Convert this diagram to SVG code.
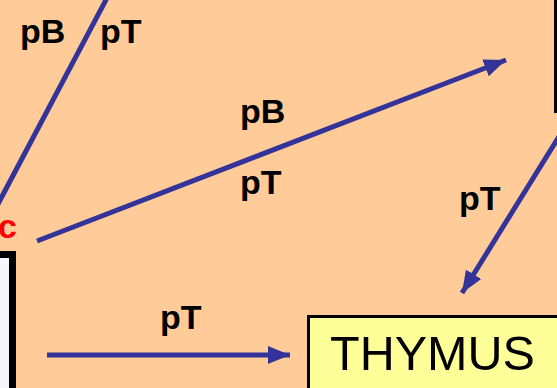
<svg xmlns="http://www.w3.org/2000/svg" width="557" height="388" viewBox="0 0 557 388">
  <style>
    .lbl { font-family: "Liberation Sans", Arial, sans-serif; font-weight: bold; font-size: 34px; fill: #000; }
    .conn { stroke: #333399; stroke-width: 5; fill: none; }
  </style>
  <defs>
    <marker id="ah" markerUnits="userSpaceOnUse" markerWidth="24" markerHeight="20" viewBox="0 0 24 20" refX="22" refY="10" orient="auto">
      <path d="M0,1 L22,10 L0,19 z" fill="#333399"/>
    </marker>
  </defs>
  <rect x="0" y="0" width="557" height="388" fill="#FFCC99"/>
  <g id="left-box">
    <rect x="-20" y="254.5" width="32.5" height="150" fill="#F5F7FC" stroke="#000" stroke-width="7"/>
  </g>
  <g id="left-label">
    <text x="17" y="238" text-anchor="end" style="font-family: 'Liberation Sans', Arial, sans-serif; font-weight: bold; font-size: 34px; fill: #FF0000;">c</text>
  </g>
  <g id="right-box">
    <line x1="555.5" y1="-5" x2="555.5" y2="113" stroke="#000" stroke-width="3"/>
  </g>
  <g id="thymus">
    <rect x="308.5" y="316.5" width="260" height="80" fill="#FFFF99" stroke="#000" stroke-width="3"/>
    <text x="330" y="370" style="font-family: 'Liberation Sans', Arial, sans-serif; font-size: 48.5px; fill: #000;">THYMUS</text>
  </g>
  <g id="connectors">
    <line class="conn" x1="108" y1="-4" x2="-2" y2="204"/>
    <line class="conn" x1="37" y1="241" x2="506" y2="60" marker-end="url(#ah)"/>
    <line class="conn" x1="560" y1="135" x2="462" y2="293" marker-end="url(#ah)"/>
    <line class="conn" x1="47" y1="355" x2="290" y2="355" marker-end="url(#ah)"/>
  </g>
  <g id="labels">
    <text class="lbl" x="20" y="43">pB</text>
    <text class="lbl" x="100" y="43">pT</text>
    <text class="lbl" x="240" y="123">pB</text>
    <text class="lbl" x="240" y="194">pT</text>
    <text class="lbl" x="459" y="210">pT</text>
    <text class="lbl" x="160" y="329">pT</text>
  </g>
</svg>
